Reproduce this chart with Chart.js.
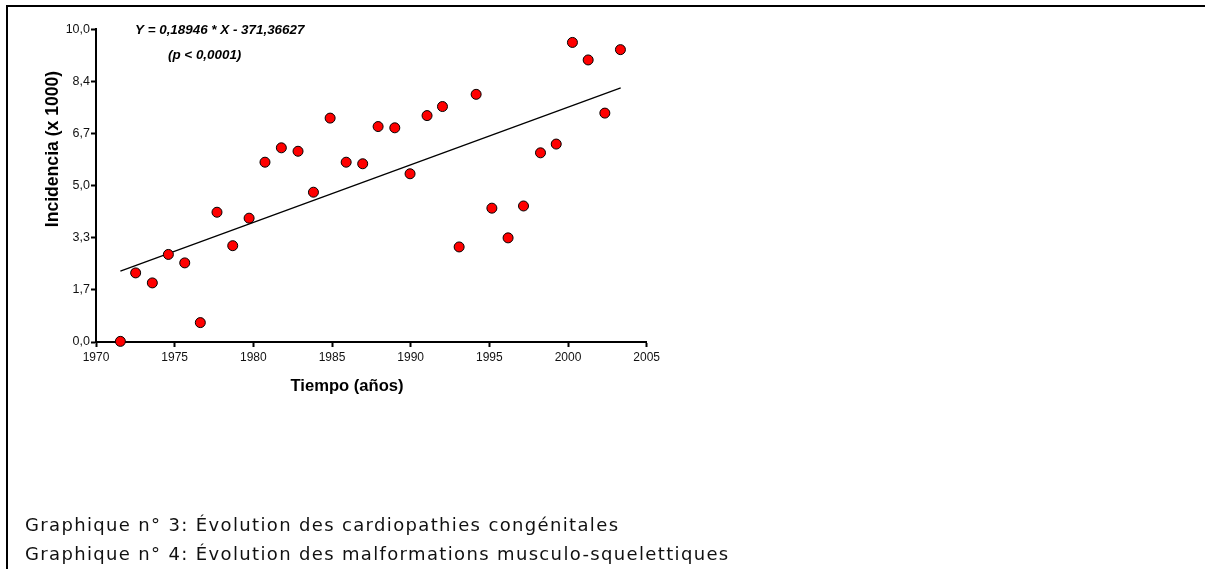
<!DOCTYPE html>
<html>
<head>
<meta charset="utf-8">
<script src="https://cdn.jsdelivr.net/npm/chart.js@4.4.1/dist/chart.umd.min.js"></script>
<style>
  html, body { margin: 0; padding: 0; background: #fff; }
  body { width: 1205px; height: 569px; position: relative; overflow: hidden; }
  #frame { position: absolute; left: 6px; top: 5px; right: -10px; bottom: -10px; border-top: 2px solid #000; border-left: 2px solid #000; }
  #c { position: absolute; left: 0; top: 0; }
  .cap { position: absolute; left: 25px; font-family: "DejaVu Sans", Verdana, sans-serif; font-size: 18px; line-height: 21px; letter-spacing: 1.35px; color: #111; white-space: nowrap; }
</style>
</head>
<body>
<div id="frame"></div>
<canvas id="c" width="1205" height="569"></canvas>
<div class="cap" id="cap1" style="top: 514px;"></div>
<div class="cap" id="cap2" style="top: 542.6px;"></div>
<script>
// ---- data ----
const years = [1971.55, 1972.52, 1973.58, 1974.60, 1975.64, 1976.63, 1977.69, 1978.69, 1979.73, 1980.74,
               1981.78, 1982.84, 1983.82, 1984.88, 1985.90, 1986.95, 1987.93, 1988.99, 1989.96, 1991.04,
               1992.02, 1993.08, 1994.16, 1995.16, 1996.19, 1997.17, 1998.25, 1999.25, 2000.28, 2001.28,
               2002.34, 2003.33];
const incidence = [0.02, 2.21, 1.89, 2.80, 2.53, 0.62, 4.15, 3.08, 3.96, 5.75,
                   6.21, 6.10, 4.79, 7.16, 5.75, 5.70, 6.89, 6.85, 5.38, 7.24,
                   7.53, 3.04, 7.92, 4.28, 3.33, 4.35, 6.05, 6.33, 9.58, 9.02,
                   7.32, 9.35];
const fitYears = [1971.55, 2003.35];
const fitValues = [2.27, 8.13];
const xTicks = [1970, 1975, 1980, 1985, 1990, 1995, 2000, 2005];
const yTickValues = [0, 10/6, 20/6, 5, 40/6, 50/6, 10];
const yTickLabels = ["0,0", "1,7", "3,3", "5,0", "6,7", "8,4", "10,0"];
const equationText = "Y = 0,18946 * X - 371,36627";
const pText = "(p < 0,0001)";
const xTitle = "Tiempo (años)";
const yTitle = "Incidencia (x 1000)";
const captions = [
  "Graphique n° 3: Évolution des cardiopathies congénitales",
  "Graphique n° 4: Évolution des malformations musculo-squelettiques"
];

document.getElementById('cap1').textContent = captions[0];
document.getElementById('cap2').textContent = captions[1];

const pointsData = years.map((x, i) => ({ x: x, y: incidence[i] }));
const fitData = fitYears.map((x, i) => ({ x: x, y: fitValues[i] }));

const textPlugin = {
  id: 'texts',
  afterDraw(chart) {
    const ctx = chart.ctx;
    ctx.save();
    ctx.fillStyle = '#000';
    ctx.textBaseline = 'middle';
    ctx.font = 'italic bold 13.4px "Liberation Sans", Arial, sans-serif';
    ctx.textAlign = 'left';
    ctx.fillText(equationText, 135, 30);
    ctx.fillText(pText, 168, 55);
    ctx.font = 'bold 16.6px "Liberation Sans", Arial, sans-serif';
    ctx.textAlign = 'center';
    ctx.fillText(xTitle, 347, 386);
    ctx.font = 'bold 17.6px "Liberation Sans", Arial, sans-serif';
    ctx.translate(53, 149);
    ctx.rotate(-Math.PI / 2);
    ctx.fillText(yTitle, 0, 0);
    ctx.restore();
  }
};

new Chart(document.getElementById('c'), {
  type: 'scatter',
  data: {
    datasets: [
      {
        type: 'line',
        data: fitData,
        borderColor: '#000',
        borderWidth: 1.3,
        pointRadius: 0,
        fill: false,
        tension: 0,
        clip: false,
        order: 2
      },
      {
        data: pointsData,
        backgroundColor: '#ff0000',
        borderColor: '#000',
        borderWidth: 1,
        pointRadius: 5,
        pointHoverRadius: 5,
        clip: false,
        order: 1
      }
    ]
  },
  options: {
    responsive: false,
    animation: false,
    devicePixelRatio: 1,
    layout: { padding: { left: 0, top: 29.3, right: 558.3, bottom: 197 } },
    plugins: { legend: { display: false }, tooltip: { enabled: false } },
    scales: {
      x: {
        type: 'linear',
        min: 1970, max: 2005,
        afterFit(scale) { scale.height = 30; },
        afterBuildTicks(scale) { scale.ticks = xTicks.map(v => ({ value: v })); },
        border: { display: true, color: '#000', width: 2 },
        grid: { display: true, drawOnChartArea: false, drawTicks: true, tickLength: 5, tickWidth: 2, tickColor: '#000' },
        ticks: {
          color: '#111', padding: 3,
          font: { family: '"Liberation Sans", Arial, sans-serif', size: 12 },
          callback: (v) => String(v),
          maxRotation: 0, autoSkip: false
        }
      },
      y: {
        type: 'linear',
        min: 0, max: 10,
        afterFit(scale) { scale.width = 96; },
        afterBuildTicks(scale) { scale.ticks = yTickValues.map(v => ({ value: v })); },
        border: { display: true, color: '#000', width: 2 },
        grid: { display: true, drawOnChartArea: false, drawTicks: true, tickLength: 5, tickWidth: 2, tickColor: '#000' },
        ticks: {
          color: '#111', padding: 1,
          font: { family: '"Liberation Sans", Arial, sans-serif', size: 12.5 },
          callback: (v, i) => yTickLabels[i],
          autoSkip: false
        }
      }
    }
  },
  plugins: [textPlugin]
});
</script>
</body>
</html>
